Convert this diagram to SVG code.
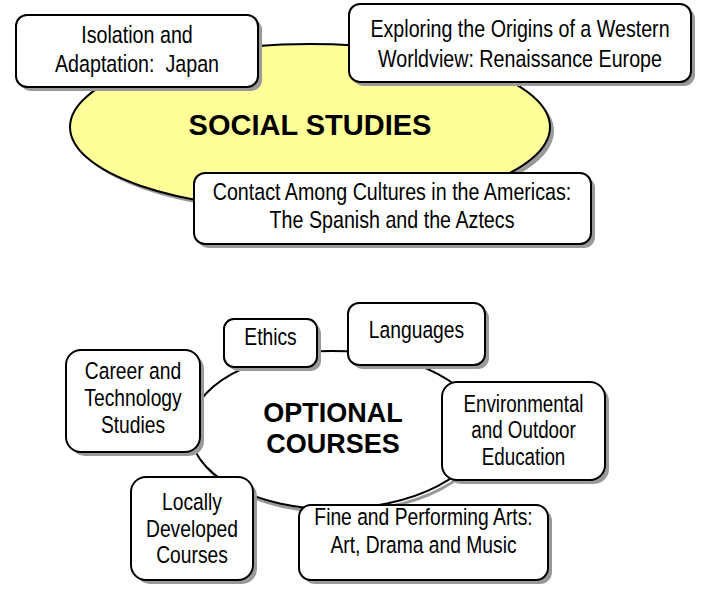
<svg xmlns="http://www.w3.org/2000/svg" width="713" height="589" viewBox="0 0 713 589">
<style>
.box{fill:#fff;stroke:#000;stroke-width:2}
.sh{fill:#999;stroke:none}
.t{font-family:'Liberation Sans',Arial,sans-serif;font-size:24px;fill:#000;text-anchor:middle;white-space:pre}
.s{font-size:23.5px}
.b{font-family:'Liberation Sans',Arial,sans-serif;font-weight:bold;fill:#000;text-anchor:middle}
</style>
<rect width="713" height="589" fill="#fff"/>
<g id="connectors"></g>

<g id="social-studies">
<ellipse class="sh" cx="314" cy="131" rx="240" ry="83"/>
<ellipse cx="310" cy="127" rx="240" ry="83" fill="#FFFF99" stroke="#000" stroke-width="2"/>
<text class="b" x="310" y="135" font-size="29">SOCIAL STUDIES</text>
</g>

<g id="japan">
<rect class="sh" x="20" y="19" width="242" height="72" rx="11"/>
<rect class="box" x="16" y="15" width="242" height="72" rx="11"/>
<g transform="matrix(0.82 0 0 1 137 0)">
<text class="t" x="0" y="43">Isolation and</text>
<text class="t" x="0" y="72" xml:space="preserve">Adaptation:  Japan</text>
</g>
</g>

<g id="renaissance">
<rect class="sh" x="353" y="8" width="342" height="78" rx="11"/>
<rect class="box" x="349" y="4" width="342" height="78" rx="11"/>
<g transform="matrix(0.82 0 0 1 520 0)">
<text class="t" x="0" y="37">Exploring the Origins of a Western</text>
<text class="t" x="0" y="67">Worldview: Renaissance Europe</text>
</g>
</g>

<g id="americas">
<rect class="sh" x="198" y="177" width="397" height="71" rx="11"/>
<rect class="box" x="194" y="173" width="397" height="71" rx="11"/>
<g transform="matrix(0.82 0 0 1 392 0)">
<text class="t" x="0" y="200">Contact Among Cultures in the Americas:</text>
<text class="t" x="0" y="228">The Spanish and the Aztecs</text>
</g>
</g>

<g id="optional-courses">
<path d="M335,354 A150,79 0 0 1 485,433 A150,79 0 0 1 335,512 A142,79 0 0 1 193,433 A142,79 0 0 1 335,354 Z" fill="none" stroke="#999" stroke-width="3"/>
<path d="M332,351 A150,79 0 0 1 482,430 A150,79 0 0 1 332,509 A142,79 0 0 1 190,430 A142,79 0 0 1 332,351 Z" fill="#fff" stroke="#000" stroke-width="2"/>
<text class="b" x="333" y="422" font-size="27">OPTIONAL</text>
<text class="b" x="333" y="453" font-size="27">COURSES</text>
</g>

<g id="ethics">
<rect class="sh" x="228" y="323" width="93" height="48" rx="10"/>
<rect class="box" x="224" y="319" width="93" height="48" rx="10"/>
<g transform="matrix(0.82 0 0 1 270.5 0)">
<text class="t s" x="0" y="345">Ethics</text>
</g>
</g>

<g id="languages">
<rect class="sh" x="352" y="307" width="137" height="62" rx="11"/>
<rect class="box" x="348" y="303" width="137" height="62" rx="11"/>
<g transform="matrix(0.82 0 0 1 416.5 0)">
<text class="t s" x="0" y="338">Languages</text>
</g>
</g>

<g id="career">
<rect class="sh" x="70" y="354" width="134" height="102" rx="15"/>
<rect class="box" x="66" y="350" width="134" height="102" rx="15"/>
<g transform="matrix(0.82 0 0 1 133 0)">
<text class="t s" x="0" y="379">Career and</text>
<text class="t s" x="0" y="406">Technology</text>
<text class="t s" x="0" y="433">Studies</text>
</g>
</g>

<g id="environmental">
<rect class="sh" x="446" y="386" width="163" height="98" rx="15"/>
<rect class="box" x="442" y="382" width="163" height="98" rx="15"/>
<g transform="matrix(0.80 0 0 1 523.5 0)">
<text class="t s" x="0" y="412">Environmental</text>
<text class="t s" x="0" y="438">and Outdoor</text>
<text class="t s" x="0" y="465">Education</text>
</g>
</g>

<g id="locally">
<rect class="sh" x="135" y="481" width="122" height="103" rx="15"/>
<rect class="box" x="131" y="477" width="122" height="103" rx="15"/>
<g transform="matrix(0.82 0 0 1 192 0)">
<text class="t s" x="0" y="510">Locally</text>
<text class="t s" x="0" y="537">Developed</text>
<text class="t s" x="0" y="563">Courses</text>
</g>
</g>

<g id="fine-arts">
<rect class="sh" x="303" y="509" width="249" height="75" rx="12"/>
<rect class="box" x="299" y="505" width="249" height="75" rx="12"/>
<g transform="matrix(0.82 0 0 1 423.5 0)">
<text class="t s" x="0" y="525">Fine and Performing Arts:</text>
<text class="t s" x="0" y="553">Art, Drama and Music</text>
</g>
</g>
</svg>
